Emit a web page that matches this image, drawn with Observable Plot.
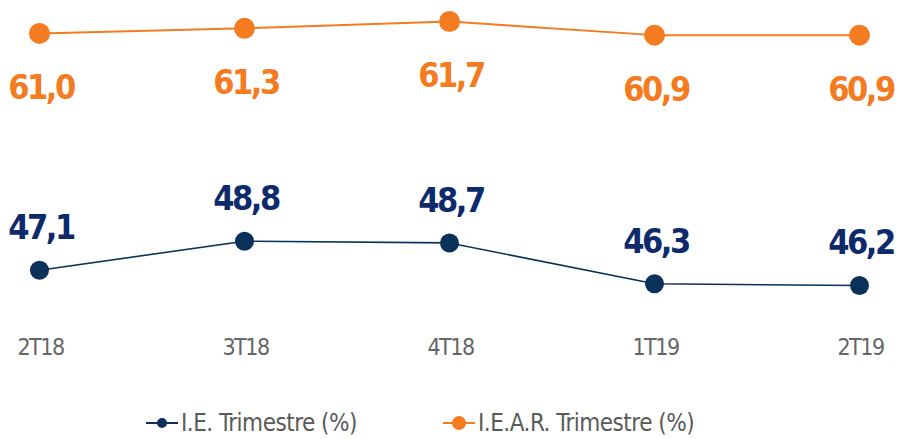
<!DOCTYPE html>
<html>
<head>
<meta charset="utf-8">
<script src="https://cdn.jsdelivr.net/npm/d3@7"></script>
<script src="https://cdn.jsdelivr.net/npm/@observablehq/plot@0.6"></script>
<style>
  html, body { margin: 0; padding: 0; background: #fff; }
  body { width: 899px; height: 439px; overflow: hidden; font-family: "DejaVu Sans Condensed", "DejaVu Sans", sans-serif; font-stretch: condensed; }
  svg text { font-stretch: condensed; }
  #legend { position: relative; height: 39px; font-size: 24px; line-height: 28px; color: #5a5a5a; letter-spacing: -0.5px; }
  .item { display: flex; align-items: center; position: absolute; top: 9px; }
  .item svg { margin-right: 2px; }
</style>
</head>
<body>
<div id="chart"></div>
<div id="legend"></div>
<script>
const categories = ["2T18", "3T18", "4T18", "1T19", "2T19"];
const ieValues = [47.1, 48.8, 48.7, 46.3, 46.2];
const iearValues = [61.0, 61.3, 61.7, 60.9, 60.9];
const seriesNames = ["I.E. Trimestre (%)", "I.E.A.R. Trimestre (%)"];
const colors = { ie: "#0a3159", ieText: "#0d2a6b", iear: "#f47b20" };

const fmt = v => v.toFixed(1).replace(".", ",");
const ie = categories.map((c, i) => ({ cat: c, v: ieValues[i] }));
const iear = categories.map((c, i) => ({ cat: c, v: iearValues[i] }));

const font = '"DejaVu Sans Condensed", "DejaVu Sans", sans-serif';

const chart = Plot.plot({
  width: 899,
  height: 400,
  marginLeft: 38,
  marginRight: 40,
  marginTop: 0,
  marginBottom: 62,
  style: { fontFamily: font, background: "#fff", overflow: "visible", fontStretch: "condensed" },
  x: { type: "point", domain: categories, padding: 0 },
  y: { domain: [46.2, 61.7], range: [285, 21], axis: null },
  marks: [
    Plot.axisX({ tickSize: 0, tickPadding: 0, fontSize: 23, fill: "#666666", label: null, dx: 1 }),
    Plot.line(iear, { x: "cat", y: "v", stroke: colors.iear, strokeWidth: 2 }),
    Plot.dot(iear, { x: "cat", y: "v", r: 10.5, fill: colors.iear }),
    Plot.text(iear, { x: "cat", y: "v", text: d => fmt(d.v), dy: 55, dx: 1.5, fill: colors.iear, fontSize: 34, fontWeight: "bold", lineAnchor: "middle" }),
    Plot.line(ie, { x: "cat", y: "v", stroke: colors.ie, strokeWidth: 1.6 }),
    Plot.dot(ie, { x: "cat", y: "v", r: 9.5, fill: colors.ie }),
    Plot.text(ie, { x: "cat", y: "v", text: d => fmt(d.v), dy: -42, dx: 1.5, fill: colors.ieText, fontSize: 34, fontWeight: "bold", lineAnchor: "middle" })
  ]
});
d3.select(chart).selectAll("g[font-weight='bold'] text").style("letter-spacing", "-2.5px");
d3.select(chart).selectAll("g[aria-label='x-axis tick label'] text").style("letter-spacing", "-1.5px");
document.getElementById("chart").appendChild(chart);

const legend = document.getElementById("legend");
const swatch = (color, r) => `<svg width="34" height="20"><line x1="1" x2="33" y1="10" y2="10" stroke="${color}" stroke-width="2"/><circle cx="17" cy="10" r="${r}" fill="${color}"/></svg>`;
const lefts = [145, 442];
const sw = [[colors.ie, 5], [colors.iear, 7]];
seriesNames.forEach((name, i) => {
  const el = document.createElement("div");
  el.className = "item";
  el.style.left = lefts[i] + "px";
  el.innerHTML = swatch(sw[i][0], sw[i][1]) + `<span>${name}</span>`;
  legend.appendChild(el);
});
</script>
</body>
</html>
